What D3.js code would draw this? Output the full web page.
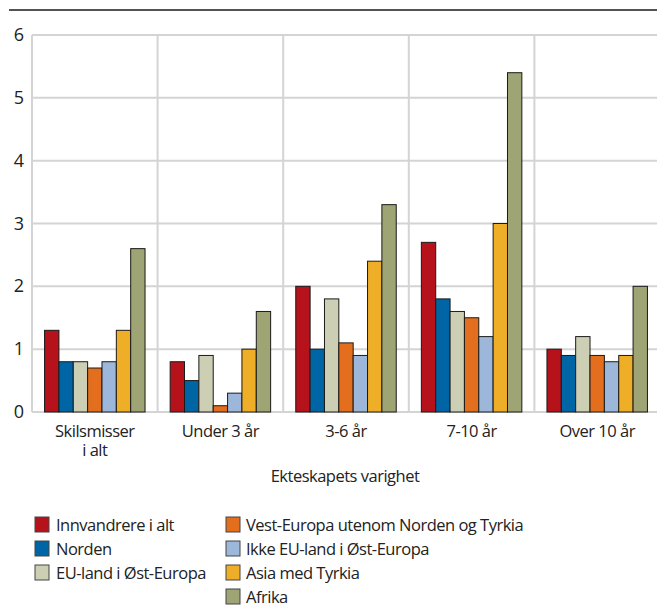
<!DOCTYPE html>
<html>
<head>
<meta charset="utf-8">
<script src="https://cdn.jsdelivr.net/npm/d3@7"></script>
<style>
  body { margin: 0; background: #fff; }
  svg { display: block; font-family: "Open Sans", sans-serif; }
  .lbl { letter-spacing: -0.5px; }
</style>
</head>
<body>
<svg id="chart" width="657" height="607"></svg>
<script>
const categories = ['Skilsmisser\ni alt', 'Under 3 år', '3-6 år', '7-10 år', 'Over 10 år']
const series = ['Innvandrere i alt', 'Norden', 'EU-land i Øst-Europa',
  'Vest-Europa utenom Norden og Tyrkia', 'Ikke EU-land i Øst-Europa', 'Asia med Tyrkia', 'Afrika']
const colors = ['#b5121b', '#0065a4', '#cdcfb4', '#e36f1e', '#9cb7d9', '#efae28', '#9ea474']

// values[series][category]
const innvandrere = [1.3, 0.8, 2.0, 2.7, 1.0]
const norden = [0.8, 0.5, 1.0, 1.8, 0.9]
const euOst = [0.8, 0.9, 1.8, 1.6, 1.2]
const vestEuropa = [0.7, 0.1, 1.1, 1.5, 0.9]
const ikkeEuOst = [0.8, 0.3, 0.9, 1.2, 0.8]
const asia = [1.3, 1.0, 2.4, 3.0, 0.9]
const afrika = [2.6, 1.6, 3.3, 5.4, 2.0]
const values = [innvandrere, norden, euOst, vestEuropa, ikkeEuOst, asia, afrika]
const yTicks = [0, 1, 2, 3, 4, 5, 6]

const svg = d3.select('#chart')
const mLeft = 32, mRight = 660, mTop = 35, mBottom = 412

const x0 = d3.scaleBand().domain(categories).range([mLeft, mRight])
  .paddingInner(0.2).paddingOuter(0.1)
const x1 = d3.scaleBand().domain(series).range([0, x0.bandwidth()])
const y = d3.scaleLinear().domain([0, 6]).range([mBottom, mTop])

// top rule
svg.append('line')
  .attr('x1', 9).attr('x2', 657).attr('y1', 10).attr('y2', 10)
  .attr('stroke', '#1a1a1a').attr('stroke-width', 1.5)

// grid
const grid = svg.append('g').attr('stroke', '#d4d4d4').attr('stroke-width', 2)
grid.selectAll('.h').data(yTicks).join('line')
  .attr('x1', mLeft).attr('x2', 657)
  .attr('y1', d => y(d)).attr('y2', d => y(d))
const bounds = d3.range(categories.length).map(i => mLeft + i * (mRight - mLeft) / categories.length)
grid.selectAll('.v').data(bounds).join('line')
  .attr('x1', d => d).attr('x2', d => d)
  .attr('y1', mTop).attr('y2', mBottom)

// y labels
svg.append('g').selectAll('text').data(yTicks).join('text')
  .attr('x', 19).attr('y', d => y(d)).attr('dy', '0.34em')
  .attr('text-anchor', 'middle').attr('font-size', 18).attr('fill', '#222')
  .text(d => d)

// bars
const groups = svg.append('g').selectAll('g').data(categories).join('g')
  .attr('transform', d => `translate(${x0(d)},0)`)
groups.selectAll('rect')
  .data((c, ci) => series.map((s, si) => ({ s, si, v: values[si][ci] })))
  .join('rect')
  .attr('x', d => x1(d.s)).attr('width', x1.bandwidth())
  .attr('y', d => y(d.v)).attr('height', d => y(0) - y(d.v))
  .attr('fill', d => colors[d.si])
  .attr('stroke', '#1a1a1a').attr('stroke-width', 1)

// category labels (one text per line)
const catG = svg.append('g').selectAll('g').data(categories).join('g')
  .attr('transform', d => `translate(${x0(d) + x0.bandwidth() / 2},437)`)
catG.selectAll('text').data(d => d.split('\n')).join('text')
  .attr('class', 'lbl')
  .attr('text-anchor', 'middle').attr('font-size', 16.5).attr('fill', '#222')
  .attr('y', (d, i) => i * 19).text(d => d)

svg.append('text').attr('class', 'lbl')
  .attr('x', 345).attr('y', 482).attr('text-anchor', 'middle')
  .attr('font-size', 16.5).attr('fill', '#222')
  .text('Ekteskapets varighet')

// legend
const legendPos = series.map((s, i) => i < 3 ? [35, 517 + i * 24] : [226, 517 + (i - 3) * 24])
const leg = svg.append('g').selectAll('g').data(series).join('g')
  .attr('transform', (d, i) => `translate(${legendPos[i][0]},${legendPos[i][1]})`)
leg.append('rect').attr('width', 14).attr('height', 15)
  .attr('fill', (d, i) => colors[i]).attr('stroke', '#444').attr('stroke-width', 1)
leg.append('text').attr('class', 'lbl')
  .attr('x', (d, i) => i < 3 ? 21 : 20).attr('y', 8).attr('dy', '0.35em')
  .attr('font-size', 16.5).attr('fill', '#222').text(d => d)
</script>
</body>
</html>
